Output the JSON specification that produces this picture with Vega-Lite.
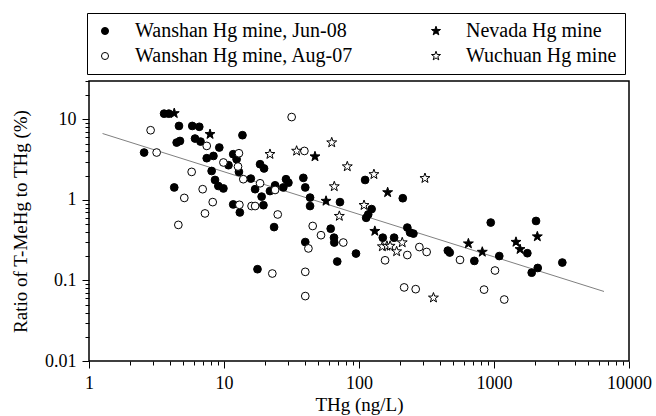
{
  "$schema": "https://vega.github.io/schema/vega-lite/v6.json",
  "width": 540,
  "height": 280,
  "autosize": {"type": "none"},
  "padding": {"left": 89, "top": 81, "right": 27, "bottom": 55},
  "background": "white",
  "config": {
    "font": "Liberation Serif",
    "view": {"stroke": "black", "strokeWidth": 1.5},
    "legend": {
      "orient": "none",
      "legendX": -2,
      "legendY": -68,
      "columns": 2,
      "columnPadding": 72,
      "rowPadding": 5,
      "padding": 8,
      "strokeColor": "black",
      "strokeWidth": 1,
      "fillColor": "white",
      "labelFont": "Liberation Serif",
      "labelFontSize": 20,
      "labelColor": "black",
      "labelLimit": 400,
      "labelOffset": 20,
      "symbolSize": 50,
      "symbolStrokeWidth": 1
    }
  },
  "datasets": {
    "fit": [
      {"THg": 1.26, "ratio": 6.68},
      {"THg": 6530, "ratio": 0.073}
    ],
    "points": [
      {"site": "Wanshan Hg mine, Jun-08", "THg": 3.6, "ratio": 11.8},
      {"site": "Wanshan Hg mine, Jun-08", "THg": 3.9, "ratio": 11.8},
      {"site": "Wanshan Hg mine, Jun-08", "THg": 4.64, "ratio": 8.3},
      {"site": "Wanshan Hg mine, Jun-08", "THg": 5.82, "ratio": 8.3},
      {"site": "Wanshan Hg mine, Jun-08", "THg": 6.56, "ratio": 8.1},
      {"site": "Wanshan Hg mine, Jun-08", "THg": 13.7, "ratio": 6.37},
      {"site": "Wanshan Hg mine, Jun-08", "THg": 4.46, "ratio": 5.16},
      {"site": "Wanshan Hg mine, Jun-08", "THg": 4.72, "ratio": 5.4},
      {"site": "Wanshan Hg mine, Jun-08", "THg": 6.1, "ratio": 5.79},
      {"site": "Wanshan Hg mine, Jun-08", "THg": 6.7, "ratio": 5.31},
      {"site": "Wanshan Hg mine, Jun-08", "THg": 9.23, "ratio": 4.48},
      {"site": "Wanshan Hg mine, Jun-08", "THg": 2.56, "ratio": 3.88},
      {"site": "Wanshan Hg mine, Jun-08", "THg": 7.45, "ratio": 3.3},
      {"site": "Wanshan Hg mine, Jun-08", "THg": 8.35, "ratio": 3.52},
      {"site": "Wanshan Hg mine, Jun-08", "THg": 10.8, "ratio": 2.7},
      {"site": "Wanshan Hg mine, Jun-08", "THg": 11.7, "ratio": 3.7},
      {"site": "Wanshan Hg mine, Jun-08", "THg": 12.4, "ratio": 3.2},
      {"site": "Wanshan Hg mine, Jun-08", "THg": 12.9, "ratio": 2.23},
      {"site": "Wanshan Hg mine, Jun-08", "THg": 8.1, "ratio": 2.29},
      {"site": "Wanshan Hg mine, Jun-08", "THg": 8.58, "ratio": 1.77},
      {"site": "Wanshan Hg mine, Jun-08", "THg": 15.8, "ratio": 1.84},
      {"site": "Wanshan Hg mine, Jun-08", "THg": 9.08, "ratio": 1.49},
      {"site": "Wanshan Hg mine, Jun-08", "THg": 9.9, "ratio": 1.39},
      {"site": "Wanshan Hg mine, Jun-08", "THg": 17, "ratio": 1.36},
      {"site": "Wanshan Hg mine, Jun-08", "THg": 4.28, "ratio": 1.43},
      {"site": "Wanshan Hg mine, Jun-08", "THg": 11.7, "ratio": 0.88},
      {"site": "Wanshan Hg mine, Jun-08", "THg": 13.1, "ratio": 0.7},
      {"site": "Wanshan Hg mine, Jun-08", "THg": 18.5, "ratio": 2.78},
      {"site": "Wanshan Hg mine, Jun-08", "THg": 19.8, "ratio": 2.46},
      {"site": "Wanshan Hg mine, Jun-08", "THg": 17.7, "ratio": 0.138},
      {"site": "Wanshan Hg mine, Jun-08", "THg": 38.7, "ratio": 1.88},
      {"site": "Wanshan Hg mine, Jun-08", "THg": 40, "ratio": 1.43},
      {"site": "Wanshan Hg mine, Jun-08", "THg": 23.9, "ratio": 1.52},
      {"site": "Wanshan Hg mine, Jun-08", "THg": 27.5, "ratio": 1.43},
      {"site": "Wanshan Hg mine, Jun-08", "THg": 28.8, "ratio": 1.81},
      {"site": "Wanshan Hg mine, Jun-08", "THg": 30, "ratio": 1.64},
      {"site": "Wanshan Hg mine, Jun-08", "THg": 21.9, "ratio": 1.29},
      {"site": "Wanshan Hg mine, Jun-08", "THg": 19, "ratio": 1.1},
      {"site": "Wanshan Hg mine, Jun-08", "THg": 19.6, "ratio": 0.86},
      {"site": "Wanshan Hg mine, Jun-08", "THg": 43.4, "ratio": 1.07},
      {"site": "Wanshan Hg mine, Jun-08", "THg": 43.4, "ratio": 0.84},
      {"site": "Wanshan Hg mine, Jun-08", "THg": 72.3, "ratio": 0.94},
      {"site": "Wanshan Hg mine, Jun-08", "THg": 111, "ratio": 1.77},
      {"site": "Wanshan Hg mine, Jun-08", "THg": 211, "ratio": 1.05},
      {"site": "Wanshan Hg mine, Jun-08", "THg": 124, "ratio": 0.77},
      {"site": "Wanshan Hg mine, Jun-08", "THg": 117, "ratio": 0.66},
      {"site": "Wanshan Hg mine, Jun-08", "THg": 113, "ratio": 0.6},
      {"site": "Wanshan Hg mine, Jun-08", "THg": 23.5, "ratio": 0.46},
      {"site": "Wanshan Hg mine, Jun-08", "THg": 61.7, "ratio": 0.44},
      {"site": "Wanshan Hg mine, Jun-08", "THg": 65.3, "ratio": 0.34},
      {"site": "Wanshan Hg mine, Jun-08", "THg": 65.6, "ratio": 0.296},
      {"site": "Wanshan Hg mine, Jun-08", "THg": 40, "ratio": 0.3},
      {"site": "Wanshan Hg mine, Jun-08", "THg": 69, "ratio": 0.172},
      {"site": "Wanshan Hg mine, Jun-08", "THg": 95, "ratio": 0.216},
      {"site": "Wanshan Hg mine, Jun-08", "THg": 150, "ratio": 0.34},
      {"site": "Wanshan Hg mine, Jun-08", "THg": 182, "ratio": 0.34},
      {"site": "Wanshan Hg mine, Jun-08", "THg": 228, "ratio": 0.454},
      {"site": "Wanshan Hg mine, Jun-08", "THg": 239, "ratio": 0.394},
      {"site": "Wanshan Hg mine, Jun-08", "THg": 253, "ratio": 0.382},
      {"site": "Wanshan Hg mine, Jun-08", "THg": 455, "ratio": 0.235},
      {"site": "Wanshan Hg mine, Jun-08", "THg": 470, "ratio": 0.222},
      {"site": "Wanshan Hg mine, Jun-08", "THg": 715, "ratio": 0.175},
      {"site": "Wanshan Hg mine, Jun-08", "THg": 946, "ratio": 0.524},
      {"site": "Wanshan Hg mine, Jun-08", "THg": 1094, "ratio": 0.201},
      {"site": "Wanshan Hg mine, Jun-08", "THg": 1766, "ratio": 0.218},
      {"site": "Wanshan Hg mine, Jun-08", "THg": 2048, "ratio": 0.548},
      {"site": "Wanshan Hg mine, Jun-08", "THg": 1902, "ratio": 0.125},
      {"site": "Wanshan Hg mine, Jun-08", "THg": 2108, "ratio": 0.143},
      {"site": "Wanshan Hg mine, Jun-08", "THg": 3207, "ratio": 0.167},
      {"site": "Wanshan Hg mine, Aug-07", "THg": 2.86, "ratio": 7.34},
      {"site": "Wanshan Hg mine, Aug-07", "THg": 7.45, "ratio": 4.69},
      {"site": "Wanshan Hg mine, Aug-07", "THg": 3.17, "ratio": 3.88},
      {"site": "Wanshan Hg mine, Aug-07", "THg": 9.9, "ratio": 2.92},
      {"site": "Wanshan Hg mine, Aug-07", "THg": 12.9, "ratio": 3.8},
      {"site": "Wanshan Hg mine, Aug-07", "THg": 12.7, "ratio": 2.6},
      {"site": "Wanshan Hg mine, Aug-07", "THg": 5.76, "ratio": 2.23},
      {"site": "Wanshan Hg mine, Aug-07", "THg": 13.9, "ratio": 1.81},
      {"site": "Wanshan Hg mine, Aug-07", "THg": 6.95, "ratio": 1.36},
      {"site": "Wanshan Hg mine, Aug-07", "THg": 5.08, "ratio": 1.06},
      {"site": "Wanshan Hg mine, Aug-07", "THg": 8.25, "ratio": 0.94},
      {"site": "Wanshan Hg mine, Aug-07", "THg": 13, "ratio": 0.87},
      {"site": "Wanshan Hg mine, Aug-07", "THg": 16, "ratio": 0.84},
      {"site": "Wanshan Hg mine, Aug-07", "THg": 17, "ratio": 0.84},
      {"site": "Wanshan Hg mine, Aug-07", "THg": 7.23, "ratio": 0.68},
      {"site": "Wanshan Hg mine, Aug-07", "THg": 18.5, "ratio": 1.61},
      {"site": "Wanshan Hg mine, Aug-07", "THg": 4.59, "ratio": 0.49},
      {"site": "Wanshan Hg mine, Aug-07", "THg": 31.7, "ratio": 10.7},
      {"site": "Wanshan Hg mine, Aug-07", "THg": 39.4, "ratio": 4.06},
      {"site": "Wanshan Hg mine, Aug-07", "THg": 23.9, "ratio": 1.33},
      {"site": "Wanshan Hg mine, Aug-07", "THg": 25, "ratio": 0.66},
      {"site": "Wanshan Hg mine, Aug-07", "THg": 45.4, "ratio": 0.475},
      {"site": "Wanshan Hg mine, Aug-07", "THg": 52.3, "ratio": 0.365},
      {"site": "Wanshan Hg mine, Aug-07", "THg": 76.5, "ratio": 0.296},
      {"site": "Wanshan Hg mine, Aug-07", "THg": 42.2, "ratio": 0.25},
      {"site": "Wanshan Hg mine, Aug-07", "THg": 22.8, "ratio": 0.122},
      {"site": "Wanshan Hg mine, Aug-07", "THg": 40, "ratio": 0.128},
      {"site": "Wanshan Hg mine, Aug-07", "THg": 40, "ratio": 0.064},
      {"site": "Wanshan Hg mine, Aug-07", "THg": 156, "ratio": 0.178},
      {"site": "Wanshan Hg mine, Aug-07", "THg": 228, "ratio": 0.207},
      {"site": "Wanshan Hg mine, Aug-07", "THg": 280, "ratio": 0.26},
      {"site": "Wanshan Hg mine, Aug-07", "THg": 317, "ratio": 0.226},
      {"site": "Wanshan Hg mine, Aug-07", "THg": 216, "ratio": 0.082},
      {"site": "Wanshan Hg mine, Aug-07", "THg": 263, "ratio": 0.078},
      {"site": "Wanshan Hg mine, Aug-07", "THg": 560, "ratio": 0.18},
      {"site": "Wanshan Hg mine, Aug-07", "THg": 844, "ratio": 0.077},
      {"site": "Wanshan Hg mine, Aug-07", "THg": 1017, "ratio": 0.133},
      {"site": "Wanshan Hg mine, Aug-07", "THg": 1191, "ratio": 0.058},
      {"site": "Nevada Hg mine", "THg": 4.28, "ratio": 11.9},
      {"site": "Nevada Hg mine", "THg": 7.88, "ratio": 6.55},
      {"site": "Nevada Hg mine", "THg": 47.2, "ratio": 3.46},
      {"site": "Nevada Hg mine", "THg": 163, "ratio": 1.24},
      {"site": "Nevada Hg mine", "THg": 57, "ratio": 0.97},
      {"site": "Nevada Hg mine", "THg": 131, "ratio": 0.41},
      {"site": "Nevada Hg mine", "THg": 646, "ratio": 0.287},
      {"site": "Nevada Hg mine", "THg": 819, "ratio": 0.226},
      {"site": "Nevada Hg mine", "THg": 1455, "ratio": 0.3},
      {"site": "Nevada Hg mine", "THg": 1559, "ratio": 0.244},
      {"site": "Nevada Hg mine", "THg": 2094, "ratio": 0.351},
      {"site": "Wuchuan Hg mine", "THg": 21.9, "ratio": 3.7},
      {"site": "Wuchuan Hg mine", "THg": 34.5, "ratio": 4.06},
      {"site": "Wuchuan Hg mine", "THg": 62.8, "ratio": 5.16},
      {"site": "Wuchuan Hg mine", "THg": 81.9, "ratio": 2.6},
      {"site": "Wuchuan Hg mine", "THg": 129, "ratio": 2.08},
      {"site": "Wuchuan Hg mine", "THg": 308, "ratio": 1.86},
      {"site": "Wuchuan Hg mine", "THg": 65.6, "ratio": 1.47},
      {"site": "Wuchuan Hg mine", "THg": 109, "ratio": 0.86},
      {"site": "Wuchuan Hg mine", "THg": 71.5, "ratio": 0.63},
      {"site": "Wuchuan Hg mine", "THg": 149, "ratio": 0.264},
      {"site": "Wuchuan Hg mine", "THg": 161, "ratio": 0.268},
      {"site": "Wuchuan Hg mine", "THg": 170, "ratio": 0.268},
      {"site": "Wuchuan Hg mine", "THg": 190, "ratio": 0.229},
      {"site": "Wuchuan Hg mine", "THg": 209, "ratio": 0.296},
      {"site": "Wuchuan Hg mine", "THg": 356, "ratio": 0.061}
    ]
  },
  "layer": [
    {
      "data": {"name": "fit"},
      "mark": {"type": "line", "color": "#808080", "strokeWidth": 1},
      "encoding": {
        "x": {
          "field": "THg", "type": "quantitative",
          "scale": {"type": "log", "domain": [1, 10000], "nice": false},
          "axis": {
            "title": "THg (ng/L)",
            "values": [1,2,3,4,5,6,7,8,9,10,20,30,40,50,60,70,80,90,100,200,300,400,500,600,700,800,900,1000,2000,3000,4000,5000,6000,7000,8000,9000,10000],
            "format": "~g",
            "labelExpr": "abs(log(datum.value)/LN10 - round(log(datum.value)/LN10)) < 0.001 ? datum.label : ''",
            "tickSize": {"condition": {"test": "abs(log(datum.value)/LN10 - round(log(datum.value)/LN10)) < 0.001", "value": 7}, "value": 4},
            "tickColor": "black",
            "tickWidth": 1,
            "domain": false,
            "grid": false,
            "labelFontSize": 18,
            "labelColor": "black",
            "labelPadding": 6,
            "labelFlush": false,
            "labelOverlap": false,
            "titleFontSize": 19,
            "titleFontWeight": "normal",
            "titleColor": "black",
            "titlePadding": 3
          }
        },
        "y": {
          "field": "ratio", "type": "quantitative",
          "scale": {"type": "log", "domain": [0.01, 30], "nice": false},
          "axis": {
            "title": "Ratio of T-MeHg to THg (%)",
            "values": [0.01,0.02,0.03,0.04,0.05,0.06,0.07,0.08,0.09,0.1,0.2,0.3,0.4,0.5,0.6,0.7,0.8,0.9,1,2,3,4,5,6,7,8,9,10,20,30],
            "format": "~g",
            "labelExpr": "abs(log(datum.value)/LN10 - round(log(datum.value)/LN10)) < 0.001 ? datum.label : ''",
            "tickSize": {"condition": {"test": "abs(log(datum.value)/LN10 - round(log(datum.value)/LN10)) < 0.001", "value": 7}, "value": 4},
            "tickColor": "black",
            "tickWidth": 1,
            "domain": false,
            "grid": false,
            "labelFontSize": 18,
            "labelColor": "black",
            "labelPadding": 6,
            "labelFlush": false,
            "labelOverlap": false,
            "titleFontSize": 19,
            "titleFontWeight": "normal",
            "titleColor": "black",
            "titlePadding": 14
          }
        }
      }
    },
    {
      "data": {"name": "points"},
      "mark": {"type": "point", "filled": true, "strokeWidth": 1, "size": 60, "opacity": 1},
      "encoding": {
        "x": {"field": "THg", "type": "quantitative"},
        "y": {"field": "ratio", "type": "quantitative"},
        "shape": {
          "field": "site", "type": "nominal",
          "scale": {"domain": ["Wanshan Hg mine, Jun-08", "Wanshan Hg mine, Aug-07", "Nevada Hg mine", "Wuchuan Hg mine"], "range": ["circle", "circle", "M0,-1.35L0.317,-0.437L1.284,-0.417L0.513,0.167L0.794,1.092L0,0.54L-0.794,1.092L-0.513,0.167L-1.284,-0.417L-0.317,-0.437Z", "M0,-1.35L0.317,-0.437L1.284,-0.417L0.513,0.167L0.794,1.092L0,0.54L-0.794,1.092L-0.513,0.167L-1.284,-0.417L-0.317,-0.437Z"]},
          "legend": {"title": null}
        },
        "fill": {
          "field": "site", "type": "nominal",
          "scale": {"domain": ["Wanshan Hg mine, Jun-08", "Wanshan Hg mine, Aug-07", "Nevada Hg mine", "Wuchuan Hg mine"], "range": ["black", "white", "black", "white"]},
          "legend": {"title": null}
        },
        "stroke": {
          "field": "site", "type": "nominal",
          "scale": {"domain": ["Wanshan Hg mine, Jun-08", "Wanshan Hg mine, Aug-07", "Nevada Hg mine", "Wuchuan Hg mine"], "range": ["black", "black", "black", "black"]},
          "legend": {"title": null}
        }
      }
    }
  ]
}
